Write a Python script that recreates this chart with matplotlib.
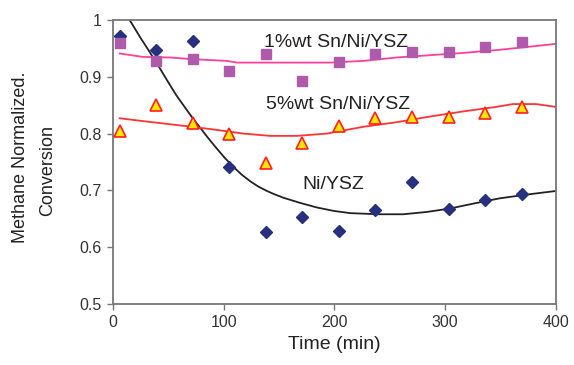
import matplotlib.pyplot as plt
import numpy as np

plt.rcParams['font.family'] = ['Liberation Sans', 'DejaVu Sans']

# measured points (time in min, normalized conversion)
time = [6, 39, 72, 105, 138, 171, 204, 237, 270, 303, 336, 369]
ni_ysz = [0.972, 0.947, 0.963, 0.741, 0.627, 0.653, 0.629, 0.666, 0.714, 0.668, 0.683, 0.694]
sn1 = [0.959, 0.928, 0.931, 0.910, 0.940, 0.893, 0.926, 0.940, 0.943, 0.943, 0.952, 0.962]
sn5 = [0.805, 0.850, 0.818, 0.799, 0.749, 0.784, 0.814, 0.827, 0.830, 0.829, 0.836, 0.846]

# trend lines
ni_trend_t = [15, 25, 33, 42, 50, 57, 65, 72, 78, 86, 94, 101, 109, 116, 124, 131, 139, 146, 154,
              169, 184, 199, 214, 240, 262, 283, 304, 326, 349, 375, 400]
ni_trend_v = [1.0, 0.968, 0.944, 0.916, 0.890, 0.868, 0.846, 0.827, 0.812, 0.792, 0.773, 0.757,
              0.741, 0.728, 0.716, 0.707, 0.699, 0.693, 0.687, 0.678, 0.670, 0.664, 0.660, 0.658,
              0.658, 0.662, 0.668, 0.677, 0.686, 0.693, 0.699]
sn1_trend_t = [6, 27, 52, 72, 103, 112, 196, 226, 256, 286, 316, 346, 376, 400]
sn1_trend_v = [0.941, 0.935, 0.934, 0.931, 0.928, 0.925, 0.925, 0.928, 0.934, 0.938, 0.942, 0.947, 0.953, 0.958]
sn5_trend_t = [6, 27, 58, 88, 118, 142, 166, 193, 226, 256, 286, 316, 346, 361, 382, 400]
sn5_trend_v = [0.827, 0.822, 0.815, 0.808, 0.800, 0.796, 0.796, 0.800, 0.812, 0.820, 0.830, 0.839,
               0.847, 0.852, 0.852, 0.847]

fig = plt.figure(figsize=(5.74, 3.65), dpi=100)
ax = fig.add_axes([0.1969, 0.1671, 0.7717, 0.7781])

ax.plot(ni_trend_t, ni_trend_v, color='#222222', lw=1.3)
ax.plot(sn1_trend_t, sn1_trend_v, color='#ff3f9a', lw=1.3)
ax.plot(sn5_trend_t, sn5_trend_v, color='#ff3333', lw=1.3)

ax.plot(time, ni_ysz, 'D', color='#27307f', ms=6, zorder=3)
ax.plot(time, sn1, 's', color='#b05aab', ms=7, zorder=3)
ax.plot(time, sn5, '^', mfc='#ffe500', mec='#ff2020', mew=1.2, ms=8, zorder=3)

ax.text(201, 0.960, '1%wt Sn/Ni/YSZ', ha='center', va='center', fontsize=14, color='#222222')
ax.text(203, 0.852, '5%wt Sn/Ni/YSZ', ha='center', va='center', fontsize=14, color='#222222')
ax.text(199, 0.711, 'Ni/YSZ', ha='center', va='center', fontsize=14, color='#222222')

ax.set_xlim(0, 400)
ax.set_ylim(0.5, 1.0)
ax.set_xticks([0, 100, 200, 300, 400])
ax.set_yticks([0.5, 0.6, 0.7, 0.8, 0.9, 1.0])
ax.set_yticklabels(['0.5', '0.6', '0.7', '0.8', '0.9', '1'])
ax.tick_params(direction='out', length=4, width=1, color='#777777', labelsize=11.5,
               labelcolor='#333333', pad=4)
for s in ax.spines.values():
    s.set_color('#777777')
    s.set_linewidth(1.3)

ax.set_xlabel('Time (min)', fontsize=14, color='#222222', labelpad=4)
fig.text(21 / 574, 1 - 157 / 365, 'Methane Normalized.', rotation=90, ha='center', va='center',
         fontsize=13, color='#222222')
fig.text(47.5 / 574, 1 - 170 / 365, 'Conversion', rotation=90, ha='center', va='center',
         fontsize=13, color='#222222')

fig.savefig('out.png', dpi=100)
